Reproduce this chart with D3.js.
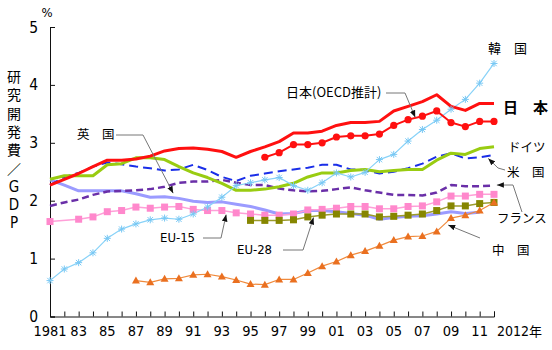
<!DOCTYPE html>
<html>
<head>
<meta charset="utf-8">
<script src="https://cdn.jsdelivr.net/npm/d3@7"></script>
<style>
  body { margin: 0; background: #fff; }
  svg { display: block; }
  .jp { font-family: "Noto Sans CJK JP", sans-serif; }
  .num { font-family: "DejaVu Sans Condensed", "DejaVu Sans", sans-serif; }
</style>
</head>
<body>
<div id="container"></div>
<script>
/*** DATA ***/
const years = [1981, 1982, 1983, 1984, 1985, 1986, 1987, 1988, 1989, 1990,
  1991, 1992, 1993, 1994, 1995, 1996, 1997, 1998, 1999, 2000,
  2001, 2002, 2003, 2004, 2005, 2006, 2007, 2008, 2009, 2010, 2011, 2012];

const japan = [2.27, 2.37, 2.47, 2.59, 2.70, 2.70, 2.72, 2.77, 2.86, 2.90,
  2.91, 2.89, 2.85, 2.75, 2.85, 2.93, 3.02, 3.17, 3.17, 3.20,
  3.30, 3.35, 3.35, 3.37, 3.55, 3.63, 3.71, 3.83, 3.63, 3.56, 3.68, 3.68];

const japanOecd = [null, null, null, null, null, null, null, null, null, null,
  null, null, null, null, null, 2.75, 2.83, 2.97, 2.97, 3.00,
  3.10, 3.12, 3.12, 3.15, 3.30, 3.40, 3.46, 3.55, 3.35, 3.28, 3.37, 3.37];

const korea = [0.62, 0.82, 0.93, 1.10, 1.35, 1.51, 1.60, 1.67, 1.70, 1.68,
  1.77, 1.89, 2.06, 2.26, 2.31, 2.36, 2.40, 2.26, 2.18, 2.31,
  2.48, 2.41, 2.49, 2.71, 2.80, 3.03, 3.23, 3.39, 3.58, 3.75, 4.03, 4.37];

const germany = [2.37, 2.43, 2.43, 2.43, 2.62, 2.64, 2.74, 2.74, 2.71, 2.59,
  2.48, 2.40, 2.30, 2.18, 2.18, 2.20, 2.24, 2.30, 2.41, 2.48,
  2.48, 2.52, 2.54, 2.50, 2.52, 2.54, 2.54, 2.70, 2.82, 2.80, 2.90, 2.93];

const usa = [2.27, 2.41, 2.48, 2.59, 2.66, 2.63, 2.59, 2.56, 2.52, 2.54,
  2.62, 2.53, 2.41, 2.34, 2.43, 2.47, 2.51, 2.54, 2.57, 2.62,
  2.62, 2.54, 2.53, 2.47, 2.50, 2.56, 2.64, 2.76, 2.82, 2.73, 2.75, 2.79];

const france = [1.91, 1.97, 2.02, 2.10, 2.16, 2.17, 2.18, 2.20, 2.24, 2.31,
  2.33, 2.33, 2.36, 2.31, 2.27, 2.27, 2.21, 2.18, 2.16, 2.17,
  2.20, 2.23, 2.18, 2.14, 2.10, 2.10, 2.09, 2.14, 2.27, 2.25, 2.25, 2.26];

const uk = [2.36, 2.27, 2.17, 2.17, 2.17, 2.17, 2.12, 2.06, 2.07, 2.04,
  1.99, 1.97, 1.98, 1.94, 1.90, 1.84, 1.77, 1.78, 1.83, 1.83,
  1.81, 1.78, 1.75, 1.68, 1.71, 1.73, 1.74, 1.77, 1.81, 1.78, 1.80, null];

const eu15 = [1.64, null, 1.68, 1.72, 1.81, 1.83, 1.89, 1.87, 1.89, 1.90,
  1.85, 1.83, 1.83, 1.79, 1.77, 1.75, 1.75, 1.77, 1.84, 1.85,
  1.87, 1.90, 1.90, 1.86, 1.86, 1.90, 1.91, 1.98, 2.08, 2.08, 2.11, 2.11];

const eu28 = [null, null, null, null, null, null, null, null, null, null,
  null, null, null, null, 1.66, 1.66, 1.66, 1.67, 1.72, 1.75,
  1.77, 1.77, 1.77, 1.72, 1.73, 1.75, 1.77, 1.83, 1.91, 1.91, 1.95, 1.97];

const china = [null, null, null, null, null, null, 0.62, 0.59, 0.65, 0.66,
  0.72, 0.73, 0.69, 0.63, 0.56, 0.55, 0.64, 0.64, 0.75, 0.87,
  0.95, 1.06, 1.13, 1.22, 1.32, 1.38, 1.39, 1.47, 1.70, 1.75, 1.83, 1.97];

const xTickLabels = ["1981", "83", "85", "87", "89", "91", "93", "95", "97", "99",
  "01", "03", "05", "07", "09", "11"];
const yTicks = [0, 1, 2, 3, 4, 5];
const yTitle = ["研", "究", "開", "発", "費", "／", "G", "D", "P"];

/*** SETUP ***/
const width = 552, height = 350;
const margin = { top: 27, bottom: 34, left: 50, right: 58 };

const svg = d3.select("#container")
  .append("svg")
  .attr("width", width)
  .attr("height", height);

const x = d3.scaleLinear()
  .domain([1981, 2012])
  .range([margin.left, width - margin.right]);

const y = d3.scaleLinear()
  .domain([0, 5])
  .range([height - margin.bottom + 0.5, margin.top]);

// arrow head for the leader lines
svg.append("defs").append("marker")
  .attr("id", "arrow")
  .attr("viewBox", "0 0 10 10")
  .attr("refX", 10).attr("refY", 5)
  .attr("markerWidth", 7).attr("markerHeight", 7)
  .attr("markerUnits", "userSpaceOnUse")
  .attr("orient", "auto")
  .append("path")
  .attr("d", "M0,1 L10,5 L0,9 z")
  .attr("fill", "#111");

/*** AXES ***/
const xAxis = svg.append("g")
  .attr("transform", `translate(0,${y(0)})`)
  .call(d3.axisBottom(x).tickValues(years).tickSize(-5).tickFormat(""));
xAxis.select(".domain").attr("stroke", "#111");
xAxis.selectAll(".tick line").attr("stroke", "#111");

const yAxis = svg.append("g")
  .attr("transform", `translate(${x(1981)},0)`)
  .call(d3.axisLeft(y).tickValues(yTicks).tickSize(-5).tickFormat(""));
yAxis.select(".domain").attr("stroke", "#111");
yAxis.selectAll(".tick line").attr("stroke", "#111");

svg.selectAll(".ylab")
  .data(yTicks)
  .join("text")
  .attr("class", "ylab num")
  .attr("x", x(1981) - 12)
  .attr("y", d => y(d) + 5.5)
  .attr("text-anchor", "end")
  .style("font-size", "15.5px")
  .text(d => d);

svg.selectAll(".xlab")
  .data(xTickLabels)
  .join("text")
  .attr("class", "xlab num")
  .attr("x", (d, i) => x(years[i * 2]))
  .attr("y", y(0) + 19.5)
  .attr("text-anchor", "middle")
  .style("font-size", "14.5px")
  .text(d => d);

svg.append("text")
  .attr("class", "num")
  .attr("x", x(2012) + 3)
  .attr("y", y(0) + 19.5)
  .style("font-size", "14px")
  .text("2012")
  .append("tspan")
  .attr("class", "jp")
  .style("font-size", "13px")
  .text("年");

svg.append("text")
  .attr("class", "num")
  .attr("x", x(1981) - 3)
  .attr("y", 17)
  .attr("text-anchor", "middle")
  .style("font-size", "13px")
  .text("%");

svg.selectAll(".ytitle")
  .data(yTitle)
  .join("text")
  .attr("class", (d, i) => i > 5 ? "ytitle num" : "ytitle jp")
  .attr("x", 14)
  .attr("y", (d, i) => 82 + i * 18.3)
  .attr("text-anchor", "middle")
  .style("font-size", (d, i) => i > 5 ? "15px" : "14px")
  .text(d => d);

/*** LINES ***/
const toPts = vals => years.map((yr, i) => [yr, vals[i]]).filter(d => d[1] != null);
const lineGen = d3.line().x(d => x(d[0])).y(d => y(d[1]));

function drawLine(vals, color, w, dash) {
  svg.append("path")
    .datum(toPts(vals))
    .attr("d", lineGen)
    .attr("fill", "none")
    .attr("stroke", color)
    .attr("stroke-width", w)
    .attr("stroke-dasharray", dash || null)
    .attr("stroke-linejoin", "round");
}

drawLine(uk, "#9b9bff", 3);
drawLine(france, "#6a2fa8", 2.5, "7,4");
drawLine(usa, "#1a2ee8", 2, "9,5");
drawLine(germany, "#99cc11", 3);
drawLine(eu15, "#ff9fd8", 1.5);
drawLine(eu28, "#9c9c2c", 1.5);
drawLine(china, "#f08a3c", 1.2);
drawLine(korea, "#88d2f8", 1.2);
drawLine(japan, "#ff1010", 3);
drawLine(japanOecd, "#ff1010", 2);

// markers
svg.selectAll(".sq15")
  .data(toPts(eu15))
  .join("rect")
  .attr("x", d => x(d[0]) - 3.5).attr("y", d => y(d[1]) - 3.5)
  .attr("width", 7).attr("height", 7)
  .attr("fill", "#ff88cc");

svg.selectAll(".sq28")
  .data(toPts(eu28))
  .join("rect")
  .attr("x", d => x(d[0]) - 3.5).attr("y", d => y(d[1]) - 3.5)
  .attr("width", 7).attr("height", 7)
  .attr("fill", "#868600");

svg.selectAll(".tri")
  .data(toPts(china))
  .join("path")
  .attr("transform", d => `translate(${x(d[0])},${y(d[1])})`)
  .attr("d", "M0,-4 L4,3 L-4,3 Z")
  .attr("fill", "#ea7020");

svg.selectAll(".ast")
  .data(toPts(korea))
  .join("path")
  .attr("transform", d => `translate(${x(d[0])},${y(d[1])})`)
  .attr("d", "M-3.5,0 L3.5,0 M0,-3.5 L0,3.5 M-2.7,-2.7 L2.7,2.7 M-2.7,2.7 L2.7,-2.7")
  .attr("stroke", "#78c8f4")
  .attr("stroke-width", 1);

svg.selectAll(".dot")
  .data(toPts(japanOecd))
  .join("circle")
  .attr("cx", d => x(d[0])).attr("cy", d => y(d[1]))
  .attr("r", 3.6)
  .attr("fill", "#ff1010");

/*** LABELS ***/
function label(txt, lx, ly, size, bold) {
  svg.append("text")
    .attr("class", "jp")
    .attr("x", lx).attr("y", ly)
    .style("font-size", size + "px")
    .style("font-weight", bold ? "bold" : "normal")
    .text(txt);
}

function leader(pts, tip) {
  const all = pts.concat([[x(tip[0]), y(tip[1])]]);
  svg.append("path")
    .attr("d", d3.line()(all))
    .attr("fill", "none")
    .attr("stroke", "#777")
    .attr("stroke-width", 1)
    .attr("marker-end", "url(#arrow)");
}

label("韓　国", 488, 53, 13);
label("日　本", 503, 113, 15, true);
label("日本(OECD推計)", 286, 97, 13);
label("ドイツ", 508, 152, 12.5);
label("米　国", 507, 177, 12.5);
label("英　国", 77, 139, 12.5);
label("フランス", 497, 223, 12.5);
label("中　国", 492, 255, 12.5);

svg.append("text").attr("class", "num")
  .attr("x", 160).attr("y", 242).style("font-size", "13px").text("EU-15");
svg.append("text").attr("class", "num")
  .attr("x", 237).attr("y", 254).style("font-size", "13px").text("EU-28");

leader([[386, 93], [405, 93]], [2006.5, 3.44]);
leader([[116, 135], [143, 135]], [1989.6, 2.13]);
leader([[203, 238], [221, 238]], [1993.3, 1.76]);
leader([[283, 250], [303, 250]], [1999.4, 1.71]);
leader([[505, 170], [498, 168]], [2011.6, 2.73]);
leader([[522, 212], [513, 185]], [2012.2, 2.27]);
leader([[480, 238]], [2008.8, 1.58]);
</script>
</body>
</html>
